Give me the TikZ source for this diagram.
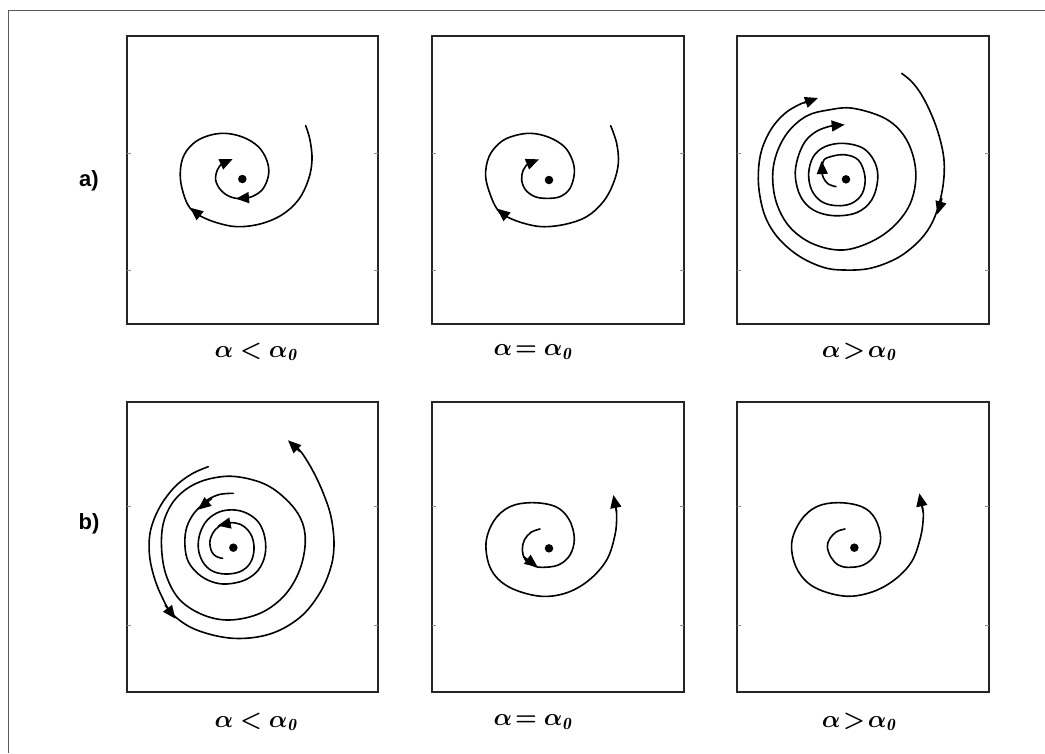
\documentclass[tikz,border=0pt]{standalone}
\usepackage{amsmath,bm}
\usepackage{fontspec}
\newfontfamily\labfont{Liberation Sans}
\usetikzlibrary{arrows.meta}
\begin{document}
\begin{tikzpicture}[x=1pt,y=-1pt,
  traj/.style={line width=1.6pt, line cap=round, line join=round},
  tipseg/.style={line width=1.6pt, -{Triangle[length=13pt,width=11pt]}},
  panel/.style={line width=1.5pt, draw=black!85},
  tickm/.style={line width=0.7pt, draw=black!45},
  ctr/.style={circle, fill=black, inner sep=0pt, minimum size=8.5pt},
  capt/.style={scale=2.45, inner sep=0pt},
  rowlab/.style={font=\labfont\bfseries\fontsize{22}{26}\selectfont, inner sep=0pt}]
\useasboundingbox (0,0) rectangle (1045,753);
\draw[line width=1pt, draw=black!65] (8,753) -- (8,10) -- (1045,10);
% panel frames
\foreach \xa/\xb in {127/378,432/684,737/989}{
  \draw[panel] (\xa,36) rectangle (\xb,324);
  \draw[panel] (\xa,402) rectangle (\xb,692);
  \foreach \yy in {153,270,506,625}{
    \draw[tickm] (\xa,\yy) -- ++(4,0);
    \draw[tickm] (\xb,\yy) -- ++(-4,0);
  }
}
% row labels
\node[rowlab] (la) at (89,181) {a)};
\node[rowlab] (lb) at (89,524) {b)};
% captions
\node[capt] (c11) at (256,352) {$\boldsymbol{\alpha<\alpha_{\mathit{0}}}$};
\node[capt] (c12) at (533,352) {$\boldsymbol{\alpha\!=\alpha_{\mathit{0}}}$};
\node[capt] (c13) at (859,352) {$\boldsymbol{\alpha\!>\!\alpha_{\mathit{0}}}$};
\node[capt] (c21) at (256,722) {$\boldsymbol{\alpha<\alpha_{\mathit{0}}}$};
\node[capt] (c22) at (533,722) {$\boldsymbol{\alpha\!=\alpha_{\mathit{0}}}$};
\node[capt] (c23) at (859,722) {$\boldsymbol{\alpha\!>\!\alpha_{\mathit{0}}}$};

% ---------- panel a1 ----------
\begin{scope}[shift={(120,30)}, x=0.33333pt, y=-0.33333pt]
\node[ctr] (d11) at (367,447) {};
\draw[traj] plot[smooth, tension=0.6] coordinates {(557,287) (570,330) (576,390) (565,450) (535,510) (485,555) (420,582) (350,590) (290,578) (245,560) (215,540) (195,505) (181,445) (188,385) (218,342) (262,318) (315,310) (370,322) (415,350) (440,390) (446,432) (430,475) (400,498) (365,506) (330,500) (302,480) (287,450) (292,420) (305,402) (318,394)};
\draw[tipseg] (240,557) -- (210,533);
\draw[tipseg] (385,503) -- (348,506);
\draw[tipseg] (305,402) -- (338,387);
\end{scope}

% ---------- panel a2 ----------
\begin{scope}[shift={(425,30)}, x=0.33333pt, y=-0.33333pt]
\node[ctr] (d12) at (372,450) {};
\draw[traj] plot[smooth, tension=0.6] coordinates {(557,287) (575,340) (580,400) (565,460) (535,515) (485,560) (420,583) (350,590) (290,578) (245,560) (222,545) (200,505) (182,440) (192,380) (225,338) (265,318) (318,310) (372,322) (418,350) (442,390) (448,430) (435,475) (405,500) (365,505) (330,500) (302,480) (290,450) (295,420) (310,400) (322,393)};
\draw[tipseg] (248,562) -- (216,536);
\draw[tipseg] (310,401) -- (342,388);
\end{scope}

% ---------- panel a3 ----------
\begin{scope}[shift={(730,30)}, x=0.33333pt, y=-0.33333pt]
\node[ctr] (d13) at (348,448) {};
% outer trajectory (spiralling in)
\draw[traj] plot[smooth, tension=0.6] coordinates {(515,130) (545,155) (575,195) (605,255) (628,320) (642,390) (640,460) (625,530) (600,590) (560,640) (500,685) (420,715) (340,720) (280,712) (210,680) (150,630) (110,570) (90,500) (85,430) (95,360) (125,295) (165,250) (205,225) (235,213)};
\draw[tipseg] (636,505) -- (622,553);
\draw[tipseg] (222,219) -- (264,204);
% limit cycle
\draw[traj] plot[smooth cycle, tension=0.6] coordinates {(370,235) (470,268) (530,330) (557,420) (545,510) (500,580) (430,632) (340,660) (250,642) (180,592) (140,520) (128,440) (140,370) (175,305) (230,258) (295,240)};
% inner trajectory (spiralling out)
\draw[traj] plot[smooth, tension=0.6] coordinates {(318,470) (295,462) (280,443) (275,420) (278,400) (290,384) (340,374) (385,390) (405,440) (397,490) (365,520) (320,527) (275,515) (245,480) (236,430) (250,380) (285,350) (340,340) (400,355) (435,398) (443,450) (425,510) (380,548) (310,557) (250,540) (212,500) (196,440) (203,385) (225,335) (258,305) (295,290) (320,286)};
\draw[tipseg] (277,432) -- (275,393);
\draw[tipseg] (305,288) -- (344,284);
\end{scope}

% ---------- panel b1 ----------
\begin{scope}[shift={(120,370)}, x=0.33333pt, y=-0.33333pt]
\node[ctr] (d21) at (340,533) {};
% outer trajectory (spiralling out)
\draw[traj] plot[smooth, tension=0.6] coordinates {(265,290) (215,312) (165,350) (120,410) (92,480) (88,550) (102,620) (128,685) (160,735) (230,780) (340,805) (450,792) (540,742) (600,668) (633,590) (642,520) (633,440) (610,370) (580,305) (548,252) (528,230)};
\draw[tipseg] (135,705) -- (166,746);
\draw[tipseg] (540,245) -- (504,211);
% limit cycle
\draw[traj] plot[smooth cycle, tension=0.6] coordinates {(350,320) (440,345) (510,400) (548,460) (555,530) (535,610) (490,680) (420,730) (330,750) (250,735) (180,690) (140,620) (125,540) (130,460) (160,395) (210,350) (275,325)};
% inner trajectory (spiralling in)
\draw[traj] plot[smooth, tension=0.6] coordinates {(340,370) (300,373) (265,388) (240,410) (215,440) (198,480) (195,530) (205,575) (235,612) (275,635) (320,642) (375,630) (415,600) (435,555) (435,505) (418,460) (385,432) (345,420) (300,425) (262,450) (240,490) (235,535) (248,575) (275,602) (315,612) (360,605) (390,580) (402,540) (395,498) (370,468) (338,458) (310,462) (285,480) (270,512) (275,545) (290,560) (308,565)};
\draw[tipseg] (276,385) -- (234,419);
\draw[tipseg] (332,459) -- (293,467);
\end{scope}

% ---------- panel b2 ----------
\begin{scope}[shift={(425,370)}, x=0.33333pt, y=-0.33333pt]
\node[ctr] (d22) at (372,535) {};
\draw[traj] plot[smooth, tension=0.6] coordinates {(345,477) (318,487) (298,510) (292,540) (300,568) (320,585) (350,592) (400,585) (435,555) (448,505) (432,448) (392,410) (322,398) (255,410) (207,452) (183,520) (198,598) (250,650) (340,678) (420,670) (490,632) (545,570) (570,495) (575,440) (572,410)};
\draw[tipseg] (296,560) -- (338,591);
\draw[tipseg] (575,425) -- (565,375);
\end{scope}

% ---------- panel b3 ----------
\begin{scope}[shift={(730,370)}, x=0.33333pt, y=-0.33333pt]
\node[ctr] (d23) at (373,533) {};
\draw[traj] plot[smooth, tension=0.6] coordinates {(345,477) (320,485) (300,505) (292,530) (303,562) (325,585) (355,592) (400,585) (435,555) (452,505) (435,445) (395,410) (325,398) (260,410) (212,452) (185,520) (200,595) (250,650) (340,678) (420,668) (490,632) (545,575) (572,500) (580,440) (577,410)};
\draw[tipseg] (579,425) -- (568,370);
\end{scope}
\end{tikzpicture}
\end{document}
